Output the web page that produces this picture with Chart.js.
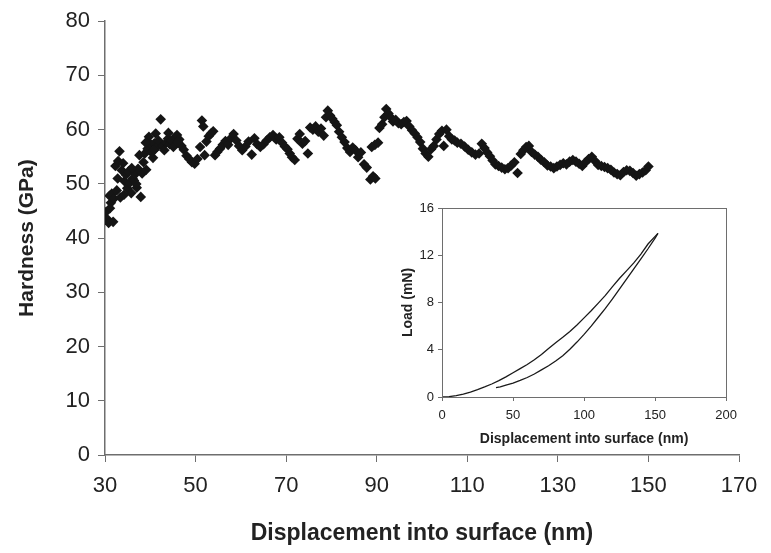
<!DOCTYPE html>
<html>
<head>
<meta charset="utf-8">
<script src="https://cdn.jsdelivr.net/npm/chart.js@4.4.1/dist/chart.umd.min.js"></script>
<style>
    html, body { margin: 0; padding: 0; background: #fff; }
    #wrap { position: relative; width: 771px; height: 553px; }
    #mainChart { position: absolute; left: 0; top: 0; }
    #insetChart { position: absolute; left: 390px; top: 195px; }
</style>
</head>
<body>
<div id="wrap">
    <canvas id="mainChart" width="771" height="553"></canvas>
    <canvas id="insetChart" width="354" height="258"></canvas>
</div>
<script>
// main plot: hardness vs displacement
const depth = [
    30.2, 30.5, 30.8, 31.0, 31.3, 31.5, 31.8, 32.0, 32.3, 32.6, 32.9, 33.2, 33.4, 33.7, 34.0, 34.3,
    34.6, 34.9, 35.2, 35.5, 35.8, 36.1, 36.4, 36.7, 37.0, 37.3, 37.6, 37.9, 38.2, 38.5, 38.8, 39.1,
    39.4, 39.7, 40.0, 40.3, 40.6, 40.9, 41.2, 41.5, 41.8, 42.3, 42.7, 43.1, 43.5, 43.9, 44.3, 44.7,
    45.1, 45.5, 45.9, 46.4, 46.9, 47.4, 48.0, 48.6, 49.2, 49.8, 50.4, 51.0, 51.4, 51.7, 52.0, 52.4,
    52.9, 53.4, 53.9, 54.3, 54.8, 55.4, 56.0, 56.6, 57.2, 57.8, 58.4, 59.0, 59.6, 60.3, 61.0, 61.7,
    62.4, 63.0, 63.6, 64.3, 65.0, 65.7, 66.4, 67.1, 67.8, 68.5, 69.1, 69.7, 70.3, 70.8, 71.3, 71.9,
    72.5, 73.0, 73.6, 74.2, 74.8, 75.3, 75.9, 76.5, 77.1, 77.7, 78.3, 78.8, 79.2, 79.7, 80.2, 80.7,
    81.2, 81.7, 82.3, 82.9, 83.5, 84.1, 84.7, 85.3, 85.9, 86.5, 87.2, 87.8, 88.6, 89.2, 89.7, 88.9,
    89.6, 90.3, 90.6, 91.2, 91.7, 92.1, 92.6, 93.1, 93.6, 94.2, 94.8, 95.4, 96.0, 96.6, 97.2, 97.8,
    98.4, 99.0, 99.6, 100.2, 100.8, 101.4, 102.0, 102.6, 103.2, 103.8, 104.4, 104.8, 105.4, 106.0, 106.6, 107.2,
    107.8, 108.6, 109.4, 110.2, 111.0, 111.8, 112.6, 113.2, 113.8, 114.4, 115.0, 115.6, 116.2, 116.9, 117.6, 118.3,
    119.0, 119.7, 120.4, 121.1, 121.8, 122.4, 123.0, 123.6, 124.2, 124.9, 125.6, 126.3, 127.0, 127.7, 128.4, 129.1,
    129.8, 130.5, 131.2, 131.9, 132.6, 133.3, 134.0, 134.7, 135.4, 136.1, 136.8, 137.5, 138.2, 138.9, 139.6, 140.3,
    141.0, 141.7, 142.4, 143.1, 143.8, 144.5, 145.2, 145.9, 146.6, 147.3, 148.0, 148.7, 149.4, 150.0,
    31.1, 32.8, 34.2, 35.9, 36.9, 39.0, 40.8, 44.0, 46.1
];
const hardness = [
    44.8, 43.5, 42.8, 47.8, 46.5, 48.2, 43.0, 47.3, 53.3, 48.8, 54.2, 56.0, 47.5, 52.5, 53.8, 50.5,
    51.7, 49.2, 52.3, 50.2, 48.3, 51.0, 50.6, 51.8, 49.3, 52.8, 55.3, 47.6, 51.9, 54.0, 55.6, 52.6,
    56.5, 58.7, 57.4, 55.8, 54.8, 57.5, 59.3, 56.8, 58.0, 61.9, 57.0, 56.2, 57.6, 58.3, 57.3, 58.0,
    56.8, 58.6, 59.0, 58.2, 57.0, 56.3, 55.2, 54.6, 54.0, 53.7, 54.6, 56.8, 61.7, 60.6, 55.3, 57.8,
    58.8, 59.3, 59.7, 55.3, 55.9, 56.5, 57.2, 57.9, 57.2, 58.4, 59.2, 58.0, 57.0, 56.2, 56.9, 57.8,
    55.4, 58.4, 57.3, 56.8, 57.3, 58.0, 58.6, 59.0, 58.2, 58.6, 57.6, 56.9, 56.4, 55.6, 54.9, 54.4,
    58.3, 59.2, 57.4, 57.9, 55.6, 60.4, 60.0, 60.6, 59.6, 60.2, 58.9, 62.3, 63.5, 62.6, 62.0, 61.4,
    60.8, 59.6, 58.6, 57.7, 56.6, 55.9, 56.7, 56.2, 54.9, 55.8, 53.6, 53.0, 50.8, 51.4, 51.0, 56.8,
    57.2, 57.6, 60.3, 61.0, 62.3, 63.8, 63.0, 62.3, 61.5, 61.8, 61.2, 61.0, 61.4, 61.6, 60.6, 59.9,
    59.3, 58.6, 57.7, 56.5, 55.6, 55.0, 56.4, 57.0, 58.2, 59.2, 59.8, 57.0, 60.0, 58.8, 58.2, 58.0,
    57.6, 57.4, 56.9, 56.3, 55.8, 55.4, 55.6, 57.4, 56.6, 55.8, 55.1, 54.3, 53.6, 53.3, 53.0, 52.7,
    52.9, 53.4, 54.0, 52.0, 55.5, 56.2, 56.8, 57.0, 55.9, 55.4, 55.0, 54.4, 54.0, 53.4, 53.2, 52.9,
    53.2, 53.5, 53.8, 53.6, 54.1, 54.4, 54.1, 53.7, 53.3, 54.0, 54.6, 55.0, 54.2, 53.5, 53.3, 53.1,
    52.9, 52.6, 52.1, 51.8, 51.6, 52.2, 52.5, 52.4, 52.0, 51.5, 51.8, 52.1, 52.5, 53.2,
    45.5, 51.0, 48.0, 52.9, 50.0, 57.6, 56.2, 59.4, 57.7
];
const mainXTicks = [30, 50, 70, 90, 110, 130, 150, 170];
const mainYTicks = [0, 10, 20, 30, 40, 50, 60, 70, 80];

// inset: load-displacement curve
const loadingDepth = [0, 5, 10, 15, 20, 25, 30, 35, 40, 45, 50, 55, 60, 65, 70, 75, 80, 85, 90, 95, 100, 105, 110, 115, 120, 125, 130, 135, 140, 145, 150, 152];
const loadingLoad = [0, 0.03, 0.12, 0.25, 0.42, 0.62, 0.85, 1.1, 1.38, 1.7, 2.05, 2.4, 2.75, 3.15, 3.6, 4.1, 4.6, 5.05, 5.55, 6.1, 6.7, 7.3, 7.95, 8.6, 9.35, 10.05, 10.7, 11.35, 12.1, 12.95, 13.6, 13.85];
const unloadingDepth = [152, 150, 145, 140, 135, 130, 125, 120, 115, 110, 105, 100, 95, 90, 85, 80, 75, 70, 65, 60, 55, 50, 45, 41, 38];
const unloadingLoad = [13.85, 13.45, 12.55, 11.7, 10.85, 10.0, 9.15, 8.3, 7.5, 6.75, 6.0, 5.3, 4.65, 4.05, 3.5, 3.05, 2.65, 2.3, 1.95, 1.65, 1.4, 1.18, 1.0, 0.85, 0.8];
const insetXTicks = [0, 50, 100, 150, 200];
const insetYTicks = [0, 4, 8, 12, 16];

const FONT = '"Liberation Sans", Arial, sans-serif';
const axisGray = '#6e6e6e';

function pairs(xs, ys) {
    return xs.map(function (x, i) { return { x: x, y: ys[i] }; });
}

function fixedTicks(values) {
    return function (scale) {
        scale.ticks = values.map(function (v) { return { value: v }; });
    };
}

new Chart(document.getElementById('mainChart'), {
    type: 'scatter',
    data: {
        datasets: [{
            data: pairs(depth, hardness),
            pointStyle: 'rectRot',
            pointRadius: 5.3,
            backgroundColor: '#151515',
            borderColor: '#151515',
            borderWidth: 0,
        }],
    },
    options: {
        responsive: false,
        animation: false,
        events: [],
        layout: { padding: { top: 16, right: 32, left: 0, bottom: 0 } },
        plugins: { legend: { display: false }, tooltip: { enabled: false } },
        scales: {
            x: {
                type: 'linear',
                min: 30,
                max: 170,
                afterBuildTicks: fixedTicks(mainXTicks),
                afterFit: function (s) { s.height = 98; },
                grid: { drawOnChartArea: false, drawTicks: true, tickLength: 7, color: axisGray },
                border: { display: true, color: axisGray, width: 1.5 },
                ticks: { color: '#222', font: { family: FONT, size: 22 }, padding: 11, maxRotation: 0 },
                title: {
                    display: true,
                    text: 'Displacement into surface (nm)',
                    color: '#222',
                    font: { family: FONT, size: 23, weight: 'bold' },
                    padding: { top: 0, bottom: 6 },
                },
            },
            y: {
                type: 'linear',
                min: 0,
                max: 80,
                afterBuildTicks: fixedTicks(mainYTicks),
                afterFit: function (s) { s.width = 105; },
                grid: { drawOnChartArea: false, drawTicks: true, tickLength: 7, color: axisGray },
                border: { display: true, color: axisGray, width: 1.5 },
                ticks: { color: '#222', font: { family: FONT, size: 22 }, padding: 8 },
                title: {
                    display: true,
                    text: 'Hardness (GPa)',
                    color: '#222',
                    font: { family: FONT, size: 21, weight: 'bold' },
                    padding: { top: 15, bottom: 0 },
                },
            },
        },
    },
});

// frame round the inset plot area
const insetFrame = {
    id: 'insetFrame',
    afterDraw: function (chart) {
        const a = chart.chartArea;
        const ctx = chart.ctx;
        ctx.save();
        ctx.strokeStyle = axisGray;
        ctx.lineWidth = 1;
        ctx.strokeRect(Math.round(a.left) + 0.5, Math.round(a.top) + 0.5,
            Math.round(a.right - a.left), Math.round(a.bottom - a.top));
        ctx.restore();
    },
};

new Chart(document.getElementById('insetChart'), {
    type: 'line',
    data: {
        datasets: [{
            data: pairs(loadingDepth, loadingLoad),
            borderColor: '#1a1a1a',
            borderWidth: 1.3,
            pointRadius: 0,
            fill: false,
            tension: 0,
        }, {
            data: pairs(unloadingDepth, unloadingLoad),
            borderColor: '#1a1a1a',
            borderWidth: 1.3,
            pointRadius: 0,
            fill: false,
            tension: 0,
        }],
    },
    options: {
        responsive: false,
        animation: false,
        events: [],
        layout: { padding: { top: 13, right: 14, left: 0, bottom: 0 } },
        plugins: { legend: { display: false }, tooltip: { enabled: false } },
        scales: {
            x: {
                type: 'linear',
                min: 0,
                max: 200,
                afterBuildTicks: fixedTicks(insetXTicks),
                afterFit: function (s) { s.height = 56; },
                grid: { drawOnChartArea: false, drawTicks: true, tickLength: 4, color: axisGray },
                border: { display: true, color: axisGray },
                ticks: { color: '#222', font: { family: FONT, size: 13 }, padding: 7, maxRotation: 0 },
                title: {
                    display: true,
                    text: 'Displacement into surface (nm)',
                    color: '#222',
                    font: { family: FONT, size: 14, weight: 'bold' },
                    padding: { top: 0, bottom: 5 },
                },
            },
            y: {
                type: 'linear',
                min: 0,
                max: 16,
                afterBuildTicks: fixedTicks(insetYTicks),
                afterFit: function (s) { s.width = 52; },
                grid: { drawOnChartArea: false, drawTicks: true, tickLength: 4, color: axisGray },
                border: { display: true, color: axisGray },
                ticks: { color: '#222', font: { family: FONT, size: 13 }, padding: 4 },
                title: {
                    display: true,
                    text: 'Load (mN)',
                    color: '#222',
                    font: { family: FONT, size: 14, weight: 'bold' },
                    padding: { top: 10, bottom: 0 },
                },
            },
        },
    },
    plugins: [insetFrame],
});
</script>
</body>
</html>
